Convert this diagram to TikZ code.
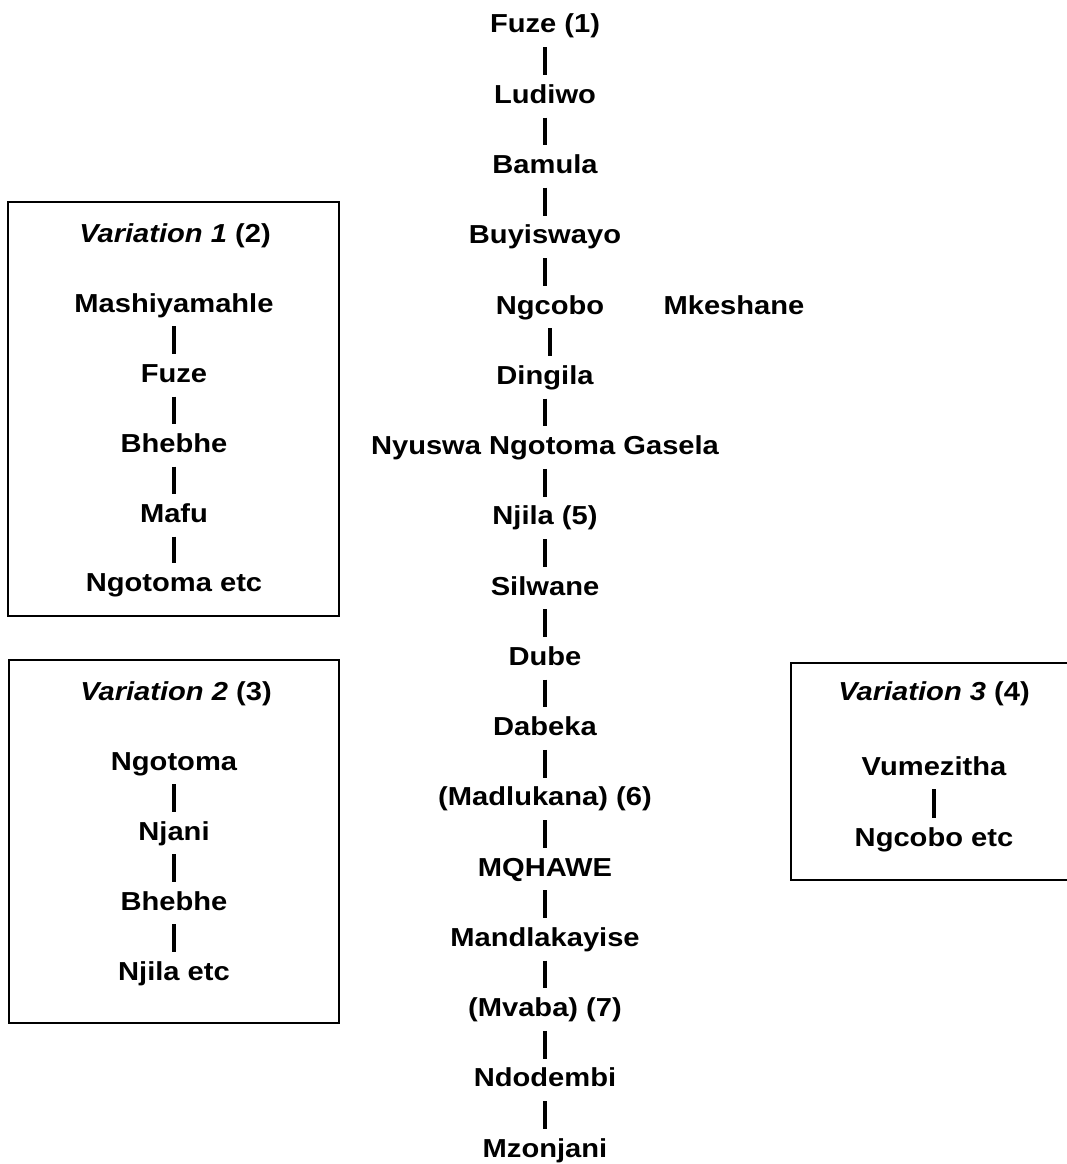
\documentclass[tikz,border=0pt]{standalone}
\usepackage{fontspec}
\setmainfont{Liberation Sans}[FakeStretch=1.12]
\begin{document}
\begin{tikzpicture}[x=1pt,y=-1pt,
  person/.style={anchor=base,inner sep=0pt,text height=19pt,text depth=6pt,
    font=\fontsize{26pt}{35pt}\selectfont\bfseries},
  bar/.style={line width=3.2pt,shorten <=8pt,shorten >=9pt},
  frame/.style={line width=2pt}]
\useasboundingbox (0,0) rectangle (1066,1164);
% main column
\node[person] (m0) at (545,33) {Fuze (1)};
\node[person] (m1) at (545,103.3) {Ludiwo};
\node[person] (m2) at (545,173.5) {Bamula};
\node[person] (m3) at (545,243.8) {Buyiswayo};
\node[person] (m4) at (550,314) {Ngcobo};
\node[person] (mk) at (734,314) {Mkeshane};
\node[person] (m5) at (545,384.3) {Dingila};
\node[person] (m6) at (545,454.6) {Nyuswa Ngotoma Gasela};
\node[person] (m7) at (545,524.8) {Njila (5)};
\node[person] (m8) at (545,595.1) {Silwane};
\node[person] (m9) at (545,665.3) {Dube};
\node[person] (m10) at (545,735.6) {Dabeka};
\node[person] (m11) at (545,805.9) {(Madlukana) (6)};
\node[person] (m12) at (545,876.1) {MQHAWE};
\node[person] (m13) at (545,946.4) {Mandlakayise};
\node[person] (m14) at (545,1016.6) {(Mvaba) (7)};
\node[person] (m15) at (545,1086.9) {Ndodembi};
\node[person] (m16) at (545,1157.2) {Mzonjani};
\foreach \a/\b in {m0/m1,m1/m2,m2/m3,m3/m4,m5/m6,m6/m7,m7/m8,m8/m9,m9/m10,m10/m11,m11/m12,m12/m13,m13/m14,m14/m15,m15/m16}
  \draw[bar] (\a.south) -- (\a.south |- \b.north);
\draw[bar] (m4.south) -- (m4.south |- m5.north);
% variation 1
\draw[frame] (8,202) rectangle (339,616);
\node[person] (h1) at (175,242) {\itshape Variation 1\upshape\ (2)};
\node[person] (a1) at (174,312) {Mashiyamahle};
\node[person] (a2) at (174,382.5) {Fuze};
\node[person] (a3) at (174,452.5) {Bhebhe};
\node[person] (a4) at (174,522.5) {Mafu};
\node[person] (a5) at (174,591) {Ngotoma etc};
\foreach \a/\b in {a1/a2,a2/a3,a3/a4,a4/a5}
  \draw[bar] (\a.south) -- (\a.south |- \b.north);
% variation 2
\draw[frame] (9,660) rectangle (339,1023);
\node[person] (h2) at (176,700) {\itshape Variation 2\upshape\ (3)};
\node[person] (b1) at (174,770) {Ngotoma};
\node[person] (b2) at (174,840) {Njani};
\node[person] (b3) at (174,910) {Bhebhe};
\node[person] (b4) at (174,980) {Njila etc};
\foreach \a/\b in {b1/b2,b2/b3,b3/b4}
  \draw[bar] (\a.south) -- (\a.south |- \b.north);
% variation 3
\draw[frame] (1080,663) -- (791,663) -- (791,880) -- (1080,880);
\node[person] (h3) at (934,700) {\itshape Variation 3\upshape\ (4)};
\node[person] (c1) at (934,775) {Vumezitha};
\node[person] (c2) at (934,846) {Ngcobo etc};
\draw[bar] (c1.south) -- (c1.south |- c2.north);
\end{tikzpicture}
\end{document}
